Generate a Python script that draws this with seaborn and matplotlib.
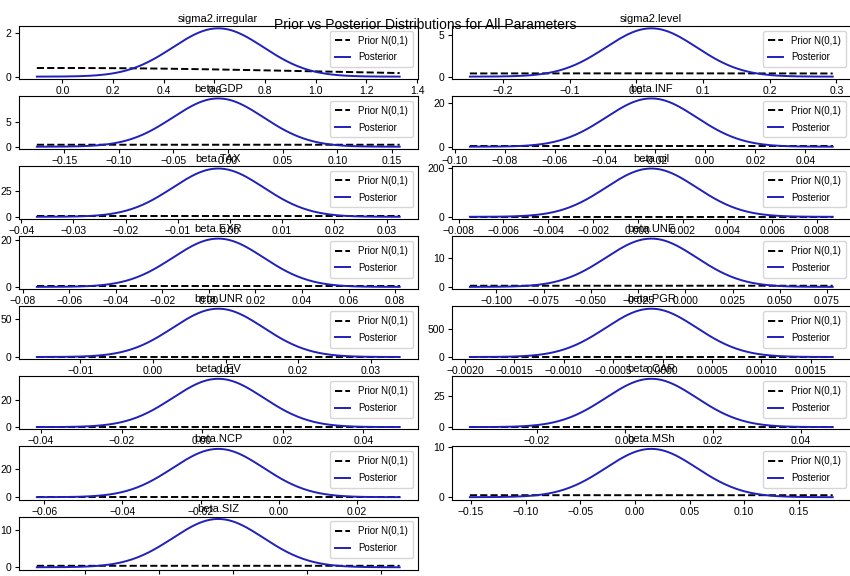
import numpy as np
import pandas as pd
import matplotlib
matplotlib.use("Agg")
import matplotlib.pyplot as plt
import seaborn as sns

# Parameters: posterior mean and sd
params = ["sigma2.irregular", "sigma2.level", "beta.GDP", "beta.INF", "beta.TAX",
          "beta.oil", "beta.EXR", "beta.UNE", "beta.UNR", "beta.PGR", "beta.LEV",
          "beta.CAR", "beta.NCP", "beta.MSh", "beta.SIZ"]
post_mean = [0.615, 0.0225, -0.009, -0.0215, -0.00225, 0.0006, 0.004, -0.018,
             0.009, -0.000115, 0.004, 0.006, -0.0155, 0.015, -0.010]
post_sd = [0.179, 0.068, 0.0415, 0.0181, 0.00869, 0.002025, 0.0195, 0.024,
           0.00625, 0.000459, 0.01125, 0.0103, 0.0116, 0.0415, 0.0306]
yticks = [[0, 2], [0, 5], [0, 5], [0, 20], [0, 25], [0, 200], [0, 20], [0, 10],
          [0, 50], [0, 500], [0, 20], [0, 25], [0, 20], [0, 10], [0, 10]]

plt.rcParams['font.family'] = ['Liberation Sans Narrow', 'Liberation Sans', 'DejaVu Sans']

def npdf(x, m, s):
    return np.exp(-0.5 * ((x - m) / s) ** 2) / (s * np.sqrt(2 * np.pi))

fig, axes = plt.subplots(8, 2, figsize=(8.5, 5.76), dpi=100)
fig.subplots_adjust(left=0.022, right=1.001, top=0.955, bottom=0.011,
                    hspace=0.32, wspace=0.085)
axes = axes.ravel()

for i, name in enumerate(params):
    ax = axes[i]
    m, s = post_mean[i], post_sd[i]
    x = np.linspace(m - 4 * s, m + 4 * s, 200)
    df = pd.DataFrame({"x": x, "prior": npdf(x, 0, 1), "post": npdf(x, m, s)})
    sns.lineplot(data=df, x="x", y="prior", ax=ax, color="black", linestyle="--",
                 linewidth=1.4, label="Prior N(0,1)")
    sns.lineplot(data=df, x="x", y="post", ax=ax, color="#2020bb",
                 linewidth=1.4, label="Posterior")
    ax.set_title(name, fontsize=8, pad=3)
    ax.set_xlabel("")
    ax.set_ylabel("")
    ax.set_yticks(yticks[i])
    ax.tick_params(labelsize=7.5, length=3, pad=2)
    ax.legend(loc="upper right", fontsize=7, handlelength=1.6, borderpad=0.5,
              labelspacing=0.7)

axes[15].axis("off")

fig.suptitle("Prior vs Posterior Distributions for All Parameters", fontsize=10,
             y=0.968)

fig.savefig("out.png", dpi=100)
